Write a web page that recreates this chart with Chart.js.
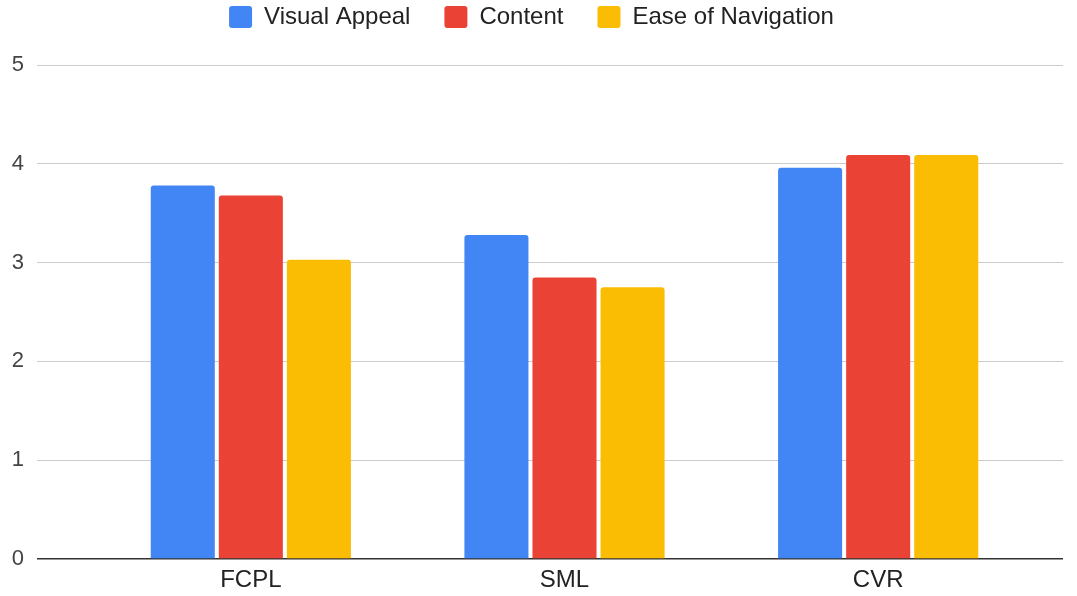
<!DOCTYPE html>
<html>
<head>
<meta charset="utf-8">
<script src="https://cdn.jsdelivr.net/npm/chart.js@4"></script>
<style>
  html, body { margin: 0; padding: 0; background: #fff; }
  #wrap { width: 1077px; height: 596px; }
</style>
</head>
<body>
<div id="wrap"><canvas id="chart" width="1077" height="596"></canvas></div>
<script>
const categories = ["FCPL", "SML", "CVR"];
const visualAppeal = [3.78, 3.28, 3.96];
const content = [3.68, 2.85, 4.09];
const easeOfNavigation = [3.03, 2.75, 4.09];
const yTicks = [0, 1, 2, 3, 4, 5];

const FONT = "'Liberation Sans', Arial, sans-serif";
const gridColor = ctx => (ctx.tick && ctx.tick.value === 0 ? "#333333" : "#cccccc");
const gridWidth = ctx => (ctx.tick && ctx.tick.value === 0 ? 1.5 : 1);

function series(label, data, color) {
  return {
    label,
    data,
    backgroundColor: color,
    borderWidth: 0,
    borderRadius: 3,
    borderSkipped: "start",
    categoryPercentage: 0.651,
    barPercentage: 0.941,
  };
}

new Chart(document.getElementById("chart"), {
  type: "bar",
  data: {
    labels: categories,
    datasets: [
      series("Visual Appeal", visualAppeal, "#4285f4"),
      series("Content", content, "#ea4335"),
      series("Ease of Navigation", easeOfNavigation, "#fbbc04"),
    ],
  },
  options: {
    responsive: false,
    animation: false,
    layout: { padding: { top: -29, left: 0, right: 14, bottom: 0 } },
    scales: {
      x: {
        grid: { display: false, drawTicks: false },
        border: { display: false },
        ticks: { color: "#222", padding: 7, font: { family: FONT, size: 24 } },
        afterFit: s => { s.height = 37; },
      },
      y: {
        min: 0,
        max: 5,
        afterBuildTicks: s => { s.ticks = yTicks.map(v => ({ value: v })); },
        grid: { color: gridColor, lineWidth: gridWidth, tickLength: 57 },
        border: { display: false },
        ticks: { color: "#444", padding: 13, font: { family: FONT, size: 22 } },
        afterFit: s => { s.width = 94; },
      },
      y2: {
        position: "right",
        min: 0,
        max: 5,
        afterBuildTicks: s => { s.ticks = yTicks.map(v => ({ value: v })); },
        grid: { color: gridColor, lineWidth: gridWidth, drawOnChartArea: false, tickLength: 28 },
        border: { display: false },
        ticks: { display: false },
        afterFit: s => { s.width = 28; },
      },
    },
    plugins: {
      title: { display: true, text: "", weight: 500, padding: 0, font: { size: 26, lineHeight: 1 } },
      legend: {
        position: "top",
        labels: {
          color: "#222",
          boxWidth: 23,
          boxHeight: 22,
          padding: 34,
          useBorderRadius: true,
          borderRadius: 3,
          font: { family: FONT, size: 24 },
        },
      },
      tooltip: { enabled: false },
    },
  },
});
</script>
</body>
</html>
